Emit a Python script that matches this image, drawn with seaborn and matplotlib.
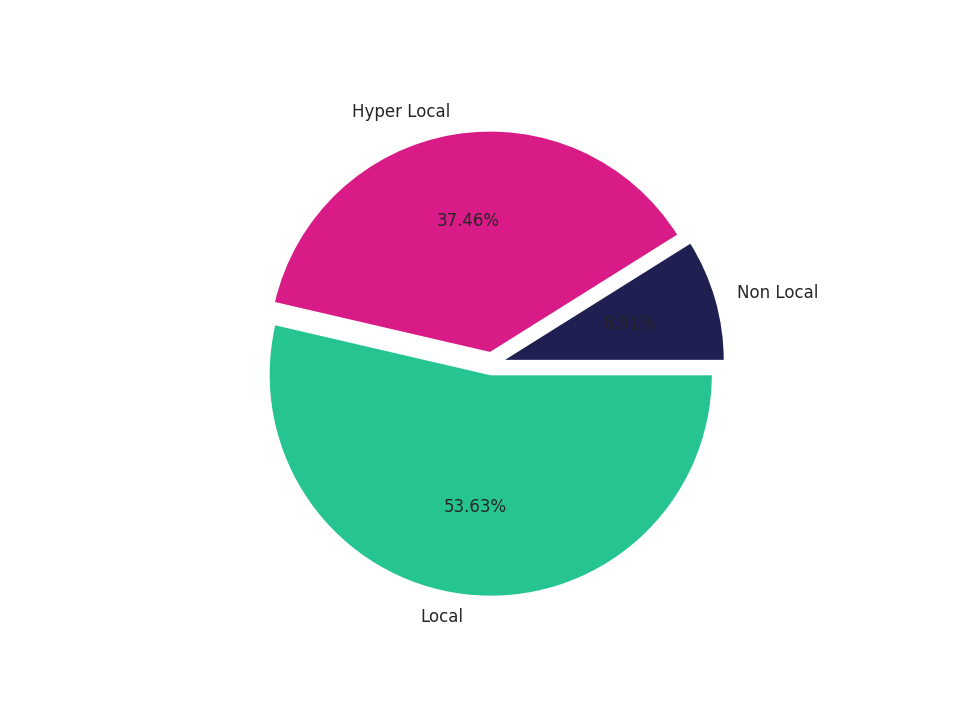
import matplotlib
matplotlib.use("Agg")
import matplotlib.pyplot as plt
import seaborn as sns

# data
labels = ["Non Local", "Hyper Local", "Local"]
shares = [8.91, 37.46, 53.63]
colors = ["#1f1f52", "#d81b87", "#26c491"]

sns.set_theme(style="white")

fig, ax = plt.subplots(figsize=(9.6, 7.2), dpi=100)
ax.pie(shares, labels=labels, colors=colors, autopct="%.2f%%",
       explode=[0.05] * len(shares), startangle=0,
       textprops={"fontsize": 12, "color": "#262626"})
plt.savefig("out.png")
